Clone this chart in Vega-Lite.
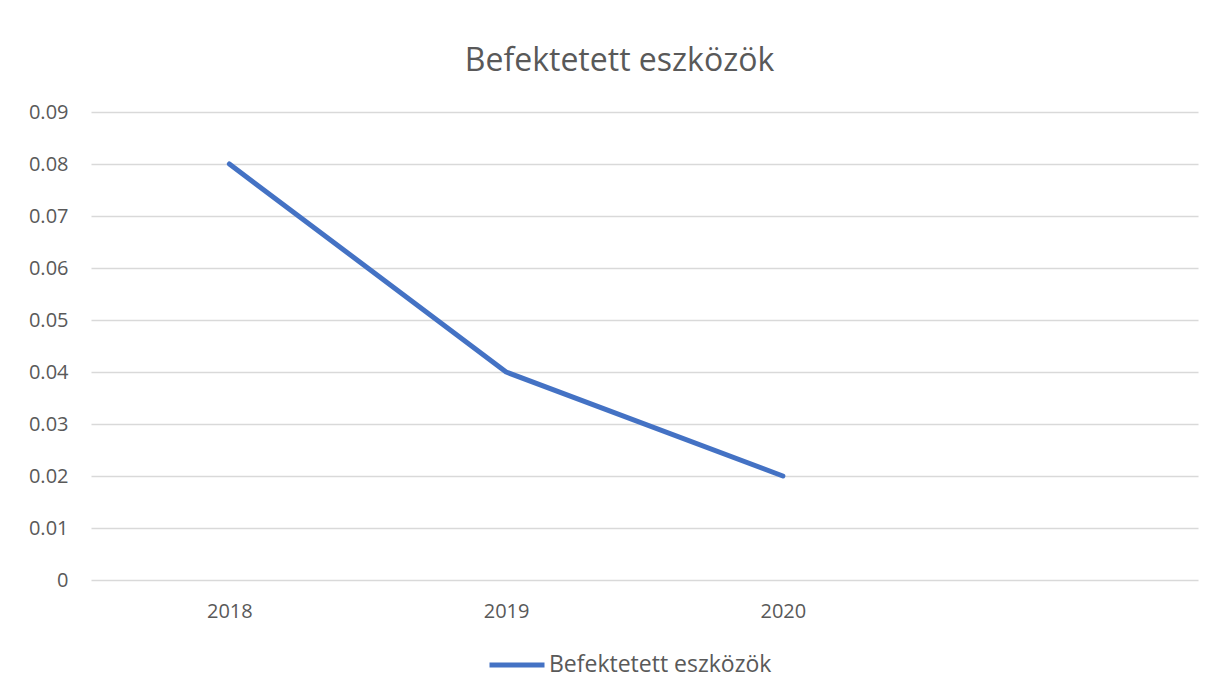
{
  "$schema": "https://vega.github.io/schema/vega-lite/v6.json",
  "width": 1107,
  "height": 468,
  "autosize": {"type": "none"},
  "padding": {"left": 91, "top": 112, "right": 17, "bottom": 117},
  "background": "white",
  "title": {
    "text": "Befektetett eszközök",
    "fontSize": 32,
    "font": "Open Sans",
    "fontWeight": "normal",
    "color": "#595959",
    "anchor": "middle",
    "dx": -25,
    "offset": 24
  },
  "data": {
    "values": [
      {"year": 2018, "value": 0.08, "series": "Befektetett eszközök"},
      {"year": 2019, "value": 0.04, "series": "Befektetett eszközök"},
      {"year": 2020, "value": 0.02, "series": "Befektetett eszközök"}
    ]
  },
  "mark": {"type": "line", "strokeWidth": 5, "strokeCap": "round", "strokeJoin": "round"},
  "encoding": {
    "x": {
      "field": "year",
      "type": "quantitative",
      "scale": {"domain": [2017.5, 2021.5], "nice": false, "zero": false},
      "axis": {
        "title": null,
        "values": [2018, 2019, 2020],
        "format": "d",
        "grid": false,
        "ticks": false,
        "domain": false,
        "labelPadding": 21,
        "labelFontSize": 20,
        "labelFont": "Open Sans",
        "labelColor": "#595959"
      }
    },
    "y": {
      "field": "value",
      "type": "quantitative",
      "scale": {"domain": [0, 0.09], "nice": false},
      "axis": {
        "title": null,
        "values": [0, 0.01, 0.02, 0.03, 0.04, 0.05, 0.06, 0.07, 0.08, 0.09],
        "labelExpr": "datum.value == 0 ? '0' : format(datum.value, '.2f')",
        "ticks": false,
        "domain": false,
        "gridColor": "#d9d9d9",
        "gridWidth": 1.5,
        "labelPadding": 23,
        "labelFontSize": 20,
        "labelFont": "Open Sans",
        "labelColor": "#595959"
      }
    },
    "color": {
      "field": "series",
      "type": "nominal",
      "scale": {"range": ["#4472C4"]},
      "legend": {
        "title": null,
        "orient": "none",
        "legendX": 396,
        "legendY": 523,
        "symbolType": "stroke",
        "symbolSize": 3025,
        "symbolStrokeWidth": 5,
        "labelFontSize": 23,
        "labelLimit": 500,
        "labelFont": "Open Sans",
        "labelColor": "#595959",
        "labelOffset": 2
      }
    }
  },
  "config": {"view": {"stroke": null}}
}
